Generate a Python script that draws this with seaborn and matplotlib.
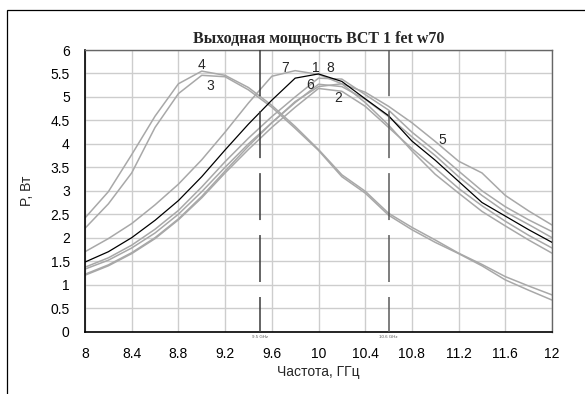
import matplotlib
matplotlib.use("Agg")
import matplotlib.pyplot as plt
import matplotlib.patches as mpatches
import seaborn as sns
import numpy as np

# ---- data ----
freq = [8.0, 8.2, 8.4, 8.6, 8.8, 9.0, 9.2, 9.4, 9.6, 9.8, 10.0,
        10.2, 10.4, 10.6, 10.8, 11.0, 11.2, 11.4, 11.6, 11.8, 12.0]
p1 = [1.48, 1.70, 2.00, 2.37, 2.79, 3.30, 3.87, 4.42, 4.93, 5.40, 5.49,
      5.33, 4.96, 4.60, 4.06, 3.65, 3.20, 2.75, 2.46, 2.17, 1.90]
p2 = [1.20, 1.40, 1.66, 1.98, 2.38, 2.85, 3.38, 3.88, 4.35, 4.78, 5.18,
      5.12, 4.80, 4.35, 3.90, 3.48, 3.05, 2.68, 2.35, 2.05, 1.78]
p3 = [2.20, 2.72, 3.38, 4.35, 5.07, 5.46, 5.43, 5.15, 4.78, 4.33, 3.86,
      3.30, 2.95, 2.48, 2.17, 1.90, 1.66, 1.40, 1.10, 0.88, 0.67]
p4 = [2.42, 2.98, 3.77, 4.59, 5.28, 5.55, 5.46, 5.20, 4.82, 4.37, 3.88,
      3.34, 2.99, 2.52, 2.22, 1.95, 1.67, 1.43, 1.17, 0.97, 0.78]
p5 = [1.22, 1.42, 1.68, 2.00, 2.40, 2.88, 3.42, 3.95, 4.45, 4.90, 5.22,
      5.28, 5.10, 4.80, 4.45, 4.05, 3.63, 3.38, 2.90, 2.57, 2.27]
p6 = [1.33, 1.52, 1.78, 2.10, 2.50, 2.98, 3.50, 4.00, 4.45, 4.88, 5.27,
      5.22, 4.95, 4.58, 4.15, 3.75, 3.30, 2.90, 2.55, 2.28, 2.00]
p7 = [1.70, 1.98, 2.30, 2.70, 3.14, 3.66, 4.25, 4.87, 5.44, 5.56, 5.48,
      5.28, 4.88, 4.40, 3.85, 3.35, 2.95, 2.56, 2.25, 1.95, 1.67]
p8 = [1.37, 1.57, 1.84, 2.18, 2.58, 3.08, 3.62, 4.12, 4.58, 5.00, 5.40,
      5.38, 5.05, 4.72, 4.25, 3.85, 3.42, 3.00, 2.66, 2.38, 2.13]

series_names = ["1", "2", "3", "4", "5", "6", "7", "8"]
series_values = [p1, p2, p3, p4, p5, p6, p7, p8]

xticks = [8, 8.4, 8.8, 9.2, 9.6, 10, 10.4, 10.8, 11.2, 11.6, 12]
xtick_labels = ["8", "8.4", "8.8", "9.2", "9.6", "10", "10.4", "10.8", "11.2", "11.6", "12"]
yticks = [0, 0.5, 1, 1.5, 2, 2.5, 3, 3.5, 4, 4.5, 5, 5.5, 6]
ytick_labels = ["0", "0.5", "1", "1.5", "2", "2.5", "3", "3.5", "4", "4.5", "5", "5.5", "6"]

markers_f = [9.5, 10.6]
marker_labels = ["9.5 GHz", "10.6 GHz"]

title = "Выходная мощность ВСТ 1 fet w70"
xlabel = "Частота, ГГц"
ylabel = "P, Вт"

# label anchor positions for curve numbers (freq, power)
curve_label_pos = {"4": (9.0, 5.69), "3": (9.07, 5.23), "7": (9.71, 5.62),
                   "1": (9.98, 5.62), "8": (10.10, 5.62), "6": (9.93, 5.26),
                   "2": (10.17, 4.98), "5": (11.06, 4.09)}

# ---- style ----
sns.set_style("white")
plt.rcParams["font.family"] = ["Liberation Sans", "DejaVu Sans"]
plt.rcParams["lines.scale_dashes"] = False

fig = plt.figure(figsize=(5.85, 3.94), dpi=100)
ax = fig.add_axes([85 / 585, (394 - 331.5) / 394, (552 - 85) / 585, (331.5 - 50) / 394])

# outer chart-area frame
fig.patches.append(mpatches.Rectangle((7 / 585, -0.1), 1.2, (394 - 10) / 394 + 0.1,
                                      transform=fig.transFigure, fill=False,
                                      ec="black", lw=0.9))

ax.set_xlim(8, 12)
ax.set_ylim(0, 6)
ax.set_xticks(xticks)
ax.set_xticklabels(xtick_labels)
ax.set_yticks(yticks)
ax.set_yticklabels(ytick_labels)
ax.tick_params(axis="both", length=0, labelsize=10, colors="black")
ax.tick_params(axis="x", pad=11)
ax.tick_params(axis="y", pad=11)
ax.grid(True, color="#cdcdcd", lw=1.0)
ax.set_axisbelow(True)

for name, vals in zip(series_names, series_values):
    if name == "1":
        continue
    sns.lineplot(x=freq, y=vals, ax=ax, color="#a8a8a8", lw=1.1, zorder=2)
sns.lineplot(x=freq, y=p1, ax=ax, color="black", lw=0.9, zorder=3)

for f, lab, col in zip(markers_f, marker_labels, ["#3a3a3a", "#5a5a5a"]):
    ax.axvline(f, color=col, lw=1.1, linestyle=(8.6, (33.8, 10.8)), zorder=4)
    ax.annotate(lab, xy=(f, 0), xycoords=("data", "axes fraction"),
                xytext=(0, -2.5), textcoords="offset points",
                ha="center", va="top", fontsize=3.2, color="#555555")

for name, (fx, py) in curve_label_pos.items():
    ax.text(fx, py, name, fontsize=10, ha="center", va="center", zorder=5)

for s in ["left", "bottom"]:
    ax.spines[s].set_color("black")
    ax.spines[s].set_linewidth(1.2)
for s in ["top", "right"]:
    ax.spines[s].set_color("#666666")
    ax.spines[s].set_linewidth(1.0)

ax.set_title(title, fontsize=11.5, fontweight="bold",
             family=["Liberation Serif", "DejaVu Serif"], pad=5)
ax.set_xlabel(xlabel, fontsize=10, labelpad=3)
ax.set_ylabel(ylabel, fontsize=10, labelpad=12)

fig.savefig("out.png", dpi=100, facecolor="white")
